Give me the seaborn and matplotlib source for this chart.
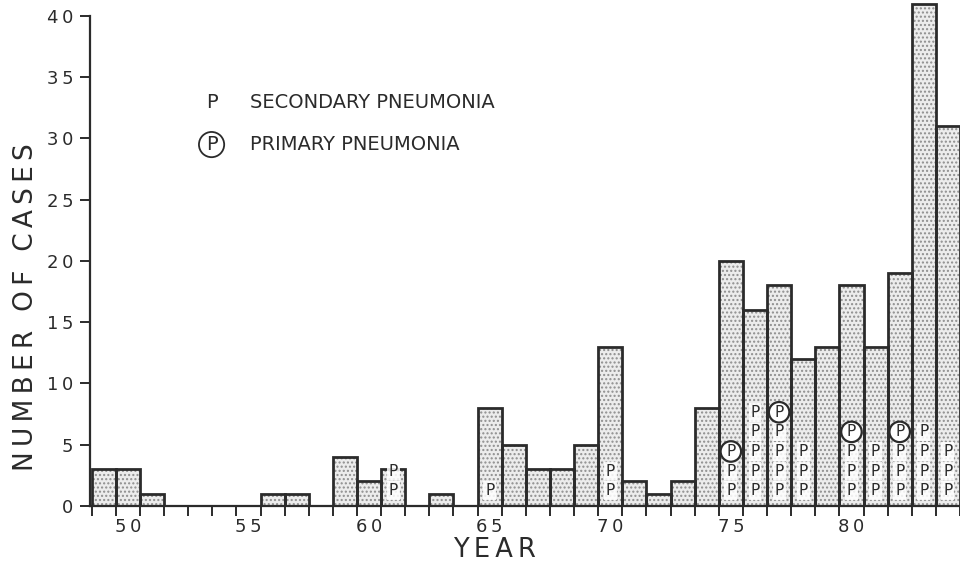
import matplotlib
matplotlib.use("Agg")
import matplotlib.pyplot as plt
import seaborn as sns
import pandas as pd
import numpy as np

# Annual case counts, 1949-1984 (two-digit years)
years = list(range(49, 85))
cases = [3, 3, 1, 0, 0, 0, 0, 1, 1, 0, 4, 2, 3, 0, 1, 0, 8, 5, 3, 3,
         5, 13, 2, 1, 2, 8, 20, 16, 18, 12, 13, 18, 13, 19, 41, 31]

# Cases with pneumonia, marked inside the bars
secondary_years = [61, 65, 70, 75, 76, 77, 78, 80, 81, 82, 83, 84]
secondary_counts = [2, 1, 2, 2, 5, 4, 3, 3, 3, 3, 4, 3]
primary_years = [75, 77, 80, 82]
primary_counts = [1, 1, 1, 1]

x_tick_years = [50, 55, 60, 65, 70, 75, 80]
x_tick_labels = ["50", "55", "60", "65", "70", "75", "80"]
y_tick_values = [0, 5, 10, 15, 20, 25, 30, 35, 40]
y_tick_labels = ["0", "5", "10", "15", "20", "25", "30", "35", "40"]

INK = "#2b2b2b"
THIN = "\u2009"


def spaced(s):
    return THIN.join(s)


sns.set_style("white")
plt.rcParams["font.family"] = ["DejaVu Sans"]
plt.rcParams["hatch.linewidth"] = 1.0

df = pd.DataFrame({"year": years, "cases": cases})

fig = plt.figure(figsize=(9.6, 5.65), dpi=100)
ax = fig.add_axes([90 / 960, 59 / 565, 870 / 960, 506 / 565])

# stippled fill
sns.histplot(data=df, x="year", weights="cases", discrete=True, ax=ax,
             color="#ececec", edgecolor="#8e8e8e", linewidth=0,
             hatch="....", alpha=1)
# bar outlines
sns.histplot(data=df, x="year", weights="cases", discrete=True, ax=ax,
             fill=False, color=INK, linewidth=2.0)

ax.set_xlim(48.43, 84.4)
ax.set_ylim(0, 41.3)

# pneumonia markers stacked from the bottom of each bar
row_y = lambda i: 1.25 + 1.6 * i
letter_box = dict(boxstyle="square,pad=0.12", fc="white", ec="none", alpha=0.85)
circle_box = dict(boxstyle="circle,pad=0.18", fc="white", ec=INK, lw=1.6)
sec = dict(zip(secondary_years, secondary_counts))
pri = dict(zip(primary_years, primary_counts))
for yr in years:
    n_sec = sec.get(yr, 0)
    n_pri = pri.get(yr, 0)
    for i in range(n_sec):
        ax.text(yr, row_y(i), "P", ha="center", va="center", fontsize=11,
                color=INK, bbox=letter_box, zorder=5)
    for j in range(n_pri):
        ax.text(yr, row_y(n_sec + j), "P", ha="center", va="center",
                fontsize=11, color=INK, bbox=circle_box, zorder=6)

# key
ax.text(53.47, 32.9, "P", ha="center", va="center", fontsize=14, color=INK)
ax.text(55.05, 32.9, "SECONDARY PNEUMONIA", ha="left", va="center",
        fontsize=14, color=INK)
ax.text(53.47, 29.5, "P", ha="center", va="center", fontsize=14, color=INK,
        bbox=dict(boxstyle="circle,pad=0.16", fc="white", ec=INK, lw=1.3))
ax.text(55.05, 29.5, "PRIMARY PNEUMONIA", ha="left", va="center",
        fontsize=14, color=INK)

# axes styling
for side in ["top", "right"]:
    ax.spines[side].set_visible(False)
for side in ["left", "bottom"]:
    ax.spines[side].set_color(INK)
    ax.spines[side].set_linewidth(1.6)
ax.spines["left"].set_bounds(0, 40)

ax.set_yticks(y_tick_values)
ax.set_yticklabels([spaced(s) for s in y_tick_labels])
ax.tick_params(axis="y", direction="out", length=7, width=1.4, color=INK,
               labelsize=13, labelcolor=INK, pad=5, left=True)

ax.set_xticks(x_tick_years)
ax.set_xticklabels([spaced(s) for s in x_tick_labels])
ax.set_xticks(np.arange(48.5, 85, 1), minor=True)
ax.tick_params(axis="x", which="major", length=0, labelsize=13,
               labelcolor=INK, pad=8.5)
ax.tick_params(axis="x", which="minor", direction="out", length=7, width=1.4,
               color=INK, bottom=True)

ax.set_xlabel("")
ax.set_ylabel("")
fig.text(0.515, 0.027, spaced("YEAR"), ha="center", va="center",
         fontsize=18.5, color=INK)
fig.text(0.027, 0.457, spaced("NUMBER OF CASES"), ha="center", va="center",
         rotation=90, fontsize=19, color=INK)

fig.savefig("out.png", dpi=100)
